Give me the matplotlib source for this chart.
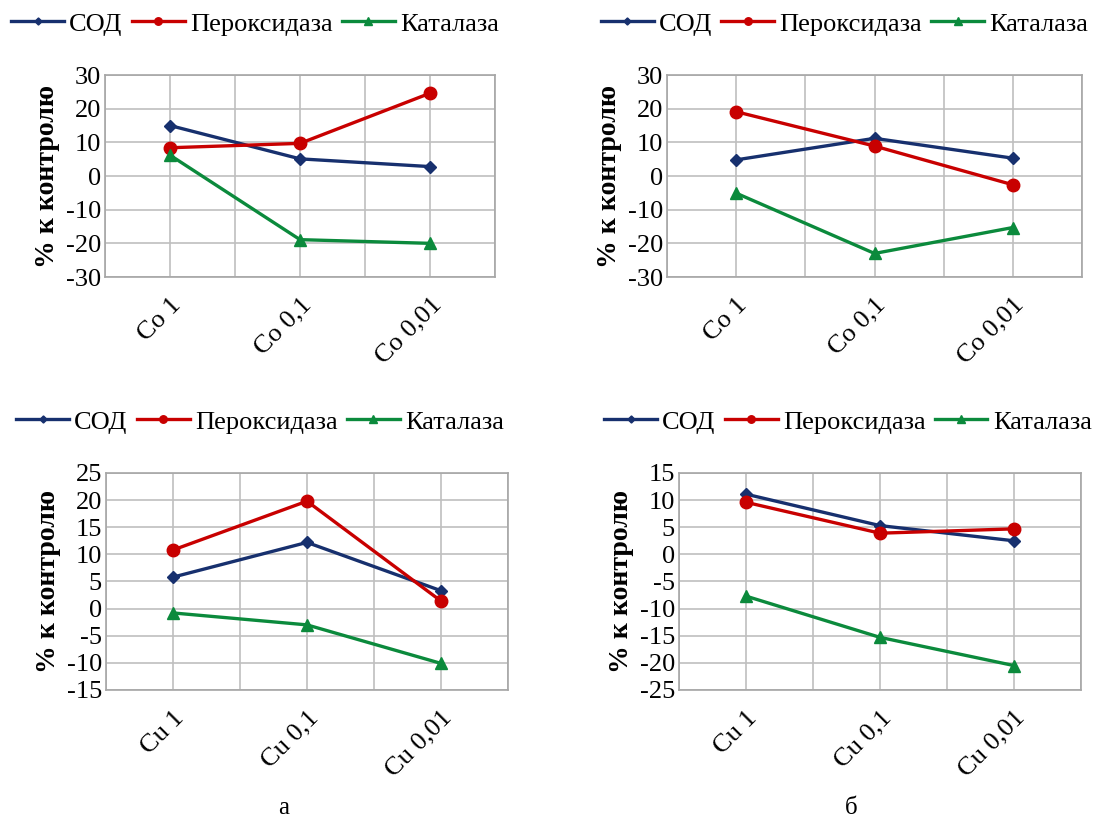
import numpy as np
import matplotlib.pyplot as plt

plt.rcParams['font.family'] = ['Liberation Serif', 'DejaVu Serif']
plt.rcParams['axes.unicode_minus'] = False

series = ['СОД', 'Пероксидаза', 'Каталаза']
colors = ['#17306e', '#c80000', '#0b8a3c']
markers = ['D', 'o', '^']
msizes = [6, 9, 9]

co_labels = ['Co 1', 'Co 0,1', 'Co 0,01']
cu_labels = ['Cu 1', 'Cu 0,1', 'Cu 0,01']

# panel а, Co
co_a_sod = [15.0, 5.1, 2.8]
co_a_perox = [8.4, 9.7, 24.6]
co_a_cat = [6.2, -18.9, -20.0]
# panel б, Co
co_b_sod = [4.8, 11.2, 5.3]
co_b_perox = [19.1, 8.9, -2.6]
co_b_cat = [-5.1, -23.0, -15.3]
# panel а, Cu
cu_a_sod = [5.8, 12.2, 3.3]
cu_a_perox = [10.8, 19.8, 1.4]
cu_a_cat = [-0.8, -3.0, -10.1]
# panel б, Cu
cu_b_sod = [11.1, 5.3, 2.5]
cu_b_perox = [9.6, 3.9, 4.7]
cu_b_cat = [-7.7, -15.3, -20.5]

fig = plt.figure(figsize=(11.04, 8.21), dpi=100)

panels = [
    ([0.0951, 0.6626, 0.3533, 0.2460], co_labels, [co_a_sod, co_a_perox, co_a_cat], (-30, 30, 10), (0.231, 0.971)),
    ([0.6042, 0.6626, 0.3759, 0.2460], co_labels, [co_b_sod, co_b_perox, co_b_cat], (-30, 30, 10), (0.765, 0.971)),
    ([0.0960, 0.1596, 0.3641, 0.2643], cu_labels, [cu_a_sod, cu_a_perox, cu_a_cat], (-15, 25, 5), (0.2355, 0.486)),
    ([0.6150, 0.1596, 0.3641, 0.2643], cu_labels, [cu_b_sod, cu_b_perox, cu_b_cat], (-25, 15, 5), (0.768, 0.486)),
]

for rect, cats, data, (ymin, ymax, step), legpos in panels:
    ax = fig.add_axes(rect)
    x = np.arange(len(cats))
    for name, vals, c, m, ms in zip(series, data, colors, markers, msizes):
        ax.plot(x, vals, color=c, lw=2.4, marker=m, ms=ms, label=name, zorder=3)
    ax.set_xlim(-0.5, len(cats) - 0.5)
    ax.set_ylim(ymin, ymax)
    ax.set_yticks(np.arange(ymin, ymax + 1, step))
    ax.set_xticks(x)
    ax.set_xticks(np.arange(-0.5, len(cats), 1.0), minor=True)
    ax.set_xticklabels(cats, rotation=45, ha='right', rotation_mode='anchor', fontsize=19)
    ax.tick_params(axis='both', which='both', length=0, labelsize=19)
    ax.tick_params(axis='x', pad=12)
    ax.tick_params(axis='y', pad=3)
    ax.grid(True, which='both', color='#bfbfbf', lw=1.2)
    ax.set_axisbelow(True)
    for s in ax.spines.values():
        s.set_color('#a6a6a6')
        s.set_linewidth(1.2)
    ax.set_ylabel('% к контролю', fontsize=20, fontweight='bold', labelpad=4)
    leg = ax.legend(loc='center', bbox_to_anchor=legpos, bbox_transform=fig.transFigure,
                    ncol=3, frameon=False, fontsize=19, handlelength=2.0,
                    columnspacing=0.35, handletextpad=0.2, markerscale=0.6,
                    borderpad=0.2)

fig.text(0.2565, 0.016, 'а', ha='center', va='center', fontsize=18)
fig.text(0.771, 0.016, 'б', ha='center', va='center', fontsize=18)

fig.savefig('out.png', dpi=100)
